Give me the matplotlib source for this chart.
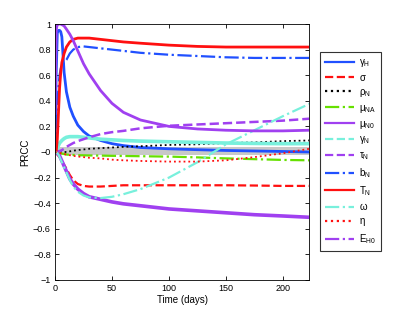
import numpy as np
import matplotlib
matplotlib.use("Agg")
import matplotlib.pyplot as plt
from matplotlib.lines import Line2D

plt.rcParams["font.family"] = ["Liberation Sans", "DejaVu Sans"]
plt.rcParams["mathtext.fontset"] = "custom"
plt.rcParams["mathtext.rm"] = "Liberation Sans"
plt.rcParams["mathtext.it"] = "Liberation Sans"

# ---------------------------------------------------------------------------
# Data (PRCC vs time)
# ---------------------------------------------------------------------------
t = [0, 1, 2, 3, 4, 5, 6, 8, 10, 13, 16, 20, 25, 30, 40, 50, 60, 75, 100,
     125, 150, 175, 200, 223]

gamma_H = [0, 0.6, 0.93, 0.95, 0.95, 0.94, 0.9, 0.62, 0.47, 0.35, 0.28, 0.21,
           0.16, 0.125, 0.09, 0.065, 0.05, 0.035, 0.025, 0.018, 0.012, 0.008,
           0.004, 0.0]
sigma = [0, -0.01, -0.02, -0.03, -0.04, -0.05, -0.07, -0.1, -0.13, -0.18,
         -0.22, -0.25, -0.265, -0.27, -0.27, -0.265, -0.26, -0.26, -0.26,
         -0.26, -0.26, -0.262, -0.265, -0.265]
rho_N = [0, 0, 0, 0, 0, 0, 0, 0, 0, 0.005, 0.01, 0.015, 0.02, 0.025, 0.03,
         0.035, 0.04, 0.045, 0.055, 0.06, 0.07, 0.075, 0.085, 0.09]
mu_NA = [0, -0.002, -0.004, -0.006, -0.008, -0.01, -0.012, -0.016, -0.02,
         -0.022, -0.023, -0.025, -0.026, -0.027, -0.028, -0.03, -0.031,
         -0.033, -0.036, -0.042, -0.05, -0.056, -0.062, -0.065]
mu_N0 = [0, 0, -0.01, -0.02, -0.03, -0.05, -0.07, -0.11, -0.15, -0.21,
         -0.25, -0.29, -0.325, -0.35, -0.37, -0.39, -0.405, -0.42, -0.445,
         -0.46, -0.475, -0.49, -0.5, -0.51]
gamma_N = [0, 0.01, 0.03, 0.05, 0.07, 0.08, 0.09, 0.105, 0.115, 0.12, 0.12,
           0.12, 0.115, 0.11, 0.1, 0.095, 0.09, 0.085, 0.08, 0.075, 0.07,
           0.067, 0.065, 0.065]
tau_N = [0, 0.002, 0.004, 0.006, 0.008, 0.01, 0.015, 0.025, 0.04, 0.055,
         0.07, 0.085, 0.1, 0.115, 0.14, 0.155, 0.165, 0.185, 0.205, 0.215,
         0.225, 0.235, 0.245, 0.26]
b_N = [0, 0.15, 0.35, 0.5, 0.6, 0.65, 0.68, 0.7, 0.72, 0.77, 0.8, 0.82,
       0.825, 0.82, 0.81, 0.8, 0.79, 0.775, 0.76, 0.75, 0.74, 0.735, 0.735,
       0.735]
T_N = [0, 0, 0.1, 0.3, 0.5, 0.62, 0.7, 0.77, 0.82, 0.86, 0.88, 0.89, 0.89,
       0.89, 0.88, 0.87, 0.86, 0.85, 0.835, 0.825, 0.82, 0.82, 0.82, 0.82]
omega = [0, 0, -0.01, -0.02, -0.04, -0.06, -0.08, -0.12, -0.16, -0.22,
         -0.27, -0.31, -0.34, -0.355, -0.36, -0.35, -0.33, -0.29, -0.2,
         -0.08, 0.06, 0.17, 0.28, 0.375]
eta = [0, -0.002, -0.004, -0.006, -0.008, -0.01, -0.012, -0.016, -0.02,
       -0.025, -0.03, -0.035, -0.04, -0.045, -0.05, -0.06, -0.065, -0.07,
       -0.075, -0.075, -0.065, -0.04, -0.01, 0.025]
E_H0 = [0.3, 0.95, 1.0, 1.0, 1.0, 1.0, 0.995, 0.985, 0.96, 0.92, 0.87, 0.79,
        0.69, 0.61, 0.48, 0.38, 0.31, 0.25, 0.2, 0.18, 0.17, 0.165, 0.165,
        0.17]

band_lo, band_hi = -0.022, 0.038

BLUE = "#2050ff"
RED = "#ff1010"
GREEN = "#66e000"
PURPLE = "#a040f0"
CYAN = "#78f0dc"

# label, values, colour, plot style, plot width, legend style
SERIES = [
    (r"$\gamma_{H}$", gamma_H, BLUE, "-", 2.0, "-"),
    (r"$\sigma$", sigma, RED, "--", 1.6, "--"),
    (r"$\rho_{N}$", rho_N, "black", ":", 1.3, ":"),
    (r"$\mu_{NA}$", mu_NA, GREEN, "-.", 1.6, "-."),
    (r"$\mu_{N0}$", mu_N0, PURPLE, "-", 2.6, "-"),
    (r"$\gamma_{N}$", gamma_N, CYAN, "-", 2.6, "--"),
    (r"$\tau_{N}$", tau_N, PURPLE, "--", 1.8, "--"),
    (r"$b_{N}$", b_N, BLUE, "-.", 1.6, "-."),
    (r"$T_{N}$", T_N, RED, "-", 2.0, "-"),
    (r"$\omega$", omega, CYAN, "-.", 1.6, "-."),
    (r"$\eta$", eta, RED, ":", 1.3, ":"),
    (r"$E_{H0}$", E_H0, PURPLE, "-", 2.0, "-."),
]

fig = plt.figure(figsize=(4.2, 3.16), dpi=100)
ax = fig.add_axes([0.131, 0.114, 0.605, 0.81])

ax.fill_between([0, 223], band_lo, band_hi, color="#c8c8c8", lw=0, zorder=1)

handles = []
for label, vals, col, ls, lw, legls in SERIES:
    ax.plot(t, vals, ls, color=col, lw=lw, zorder=2)
    handles.append(Line2D([], [], color=col, ls=legls, lw=1.6, label=label))

ax.set_xlim(0, 223)
ax.set_ylim(-1, 1)
ax.set_xticks([0, 50, 100, 150, 200])
yt = np.round(np.arange(-1, 1.01, 0.2), 1)
ax.set_yticks(yt)
ax.set_yticklabels([("%g" % v).replace("-", "\u2212") for v in yt])
ax.tick_params(direction="in", length=3, labelsize=6.5, top=True, right=True,
               width=0.6, pad=3)
for sp in ax.spines.values():
    sp.set_linewidth(0.6)
ax.set_xlabel("Time (days)", fontsize=7, labelpad=1)
ax.set_ylabel("PRCC", fontsize=7, labelpad=2)

leg = fig.legend(handles=handles, loc="upper left",
                 bbox_to_anchor=(0.762, 0.835), bbox_transform=fig.transFigure,
                 fontsize=7, frameon=True, fancybox=False, handlelength=3.0,
                 labelspacing=0.4, handletextpad=0.5, borderpad=0.5,
                 borderaxespad=0)
leg.get_frame().set_edgecolor("black")
leg.get_frame().set_linewidth(0.8)

fig.savefig("out.png", dpi=100)
